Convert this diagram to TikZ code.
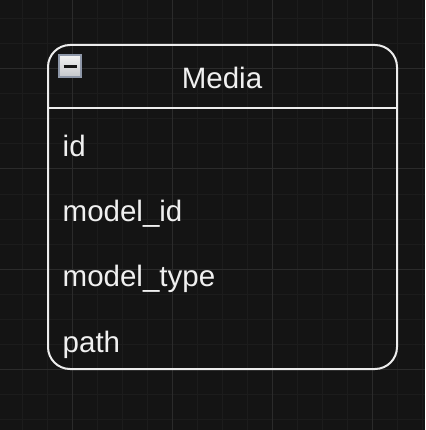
\documentclass[tikz,border=0pt]{standalone}
\usepackage{fontspec}
\setmainfont{Liberation Sans}
\definecolor{bgc}{HTML}{141414}
\definecolor{minorc}{HTML}{1C1C1C}
\definecolor{majorc}{HTML}{2B2B2B}
\definecolor{linec}{HTML}{EDEDED}
\definecolor{txtc}{HTML}{F0F0F0}
\definecolor{iconborder}{HTML}{8E97A8}
\definecolor{icontop}{HTML}{F2F2F2}
\definecolor{iconbot}{HTML}{C4C6CA}
\definecolor{iconbar}{HTML}{161616}
\tikzset{
  minorgrid/.style={draw=minorc, line width=1pt},
  majorgrid/.style={draw=majorc, line width=1pt},
  tablebox/.style={draw=linec, line width=2pt, rounded corners=22pt},
  sepline/.style={draw=linec, line width=2pt},
  field/.style={anchor=base west, inner sep=0pt, text=txtc, font=\fontsize{29.5}{32}\selectfont},
  title/.style={anchor=base, inner sep=0pt, text=txtc, font=\fontsize{29.5}{32}\selectfont},
  iconbox/.style={draw=iconborder, line width=2pt, top color=icontop, bottom color=iconbot},
  iconminus/.style={draw=iconbar, line width=3pt}
}
\begin{document}
\begin{tikzpicture}[x=1pt, y=-1pt]
\useasboundingbox (0,0) rectangle (425,430);
\fill[bgc] (0,0) rectangle (425,430);
% minor grid
\foreach \gx in {22,47,97,122,147,197,222,247,297,322,347,397,422} {
  \draw[minorgrid] (\gx,0) -- (\gx,430);
}
\foreach \gy in {19,44,94,119,144,194,219,244,294,319,344,394,419} {
  \draw[minorgrid] (0,\gy) -- (425,\gy);
}
% major grid
\foreach \gx in {72,172,272,372} {
  \draw[majorgrid] (\gx,0) -- (\gx,430);
}
\foreach \gy in {69,169,269,369} {
  \draw[majorgrid] (0,\gy) -- (425,\gy);
}
% table
\coordinate (boxtl) at (48,45);
\coordinate (boxbr) at (397,369);
\coordinate (sepl) at (48,108.5);
\coordinate (sepr) at (397,108.5);
\draw[tablebox] (boxtl) rectangle (boxbr);
\draw[sepline] (sepl) -- (sepr);
% collapse icon
\coordinate (icontl) at (58.5,55.5);
\coordinate (iconbr) at (80.5,77.5);
\coordinate (barl) at (63.5,66.5);
\coordinate (barr) at (76.5,66.5);
\draw[iconbox] (icontl) rectangle (iconbr);
\draw[iconminus] (barl) -- (barr);
% texts
\node[title] (media) at (222,88.3) {Media};
\node[field] (fid) at (62.5,156.7) {id};
\node[field] (fmodelid) at (62.5,221.7) {model\_id};
\node[field] (fmodeltype) at (62.5,286.5) {model\_type};
\node[field] (fpath) at (62.5,352) {path};
\end{tikzpicture}
\end{document}
